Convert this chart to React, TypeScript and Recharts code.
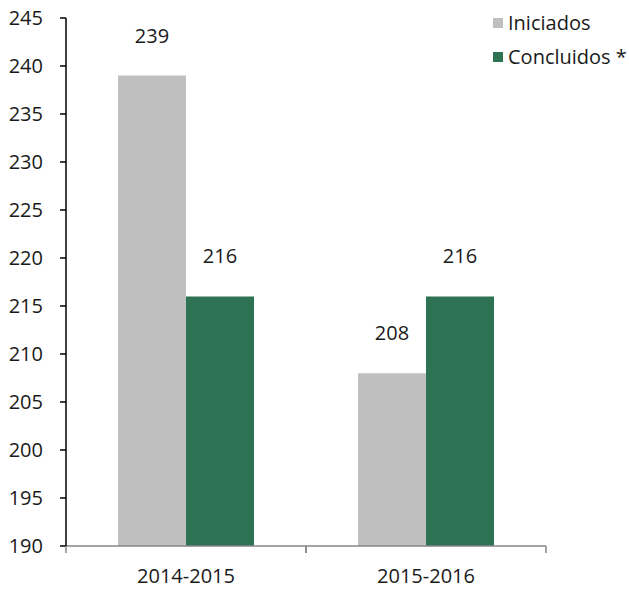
import React from 'react';
import { BarChart, Bar, XAxis, YAxis, LabelList } from 'recharts';

const CATEGORIES = ['2014-2015', '2015-2016'];
const INICIADOS = [239, 208];
const CONCLUIDOS = [216, 216];
const Y_TICKS = [190, 195, 200, 205, 210, 215, 220, 225, 230, 235, 240, 245];

const SERIES = [
  { key: 'iniciados', name: 'Iniciados', color: '#BFBFBF' },
  { key: 'concluidos', name: 'Concluidos *', color: '#2E7254' },
];

const data = CATEGORIES.map((name, i) => ({
  name,
  iniciados: INICIADOS[i],
  concluidos: CONCLUIDOS[i],
}));

const W = 629;
const H = 590;
const MARGIN = { top: 18, right: 83, bottom: 0, left: 0 };
const Y_AXIS_W = 66;
const X_AXIS_H = 44;
const FONT = '"Open Sans", sans-serif';
const FS = 20;
const TEXT = '#1a1a1a';

const plotW = W - MARGIN.left - MARGIN.right - Y_AXIS_W;
const band = plotW / CATEGORIES.length;

// category label plus the boundary tick marks Excel draws between groups
const XTick = (props: any) => {
  const { x, y, payload } = props;
  return (
    <g>
      <line x1={x - band / 2} x2={x - band / 2} y1={y} y2={y + 7} stroke="#868686" strokeWidth={1.5} />
      <line x1={x + band / 2} x2={x + band / 2} y1={y} y2={y + 7} stroke="#868686" strokeWidth={1.5} />
      <text x={x} y={y + 37} textAnchor="middle" fill={TEXT} fontSize={FS} fontFamily={FONT}>
        {payload.value}
      </text>
    </g>
  );
};

const App: React.FC = () => {
  return (
    <div style={{ position: 'absolute', left: 0, top: 0, width: W, height: H, background: '#fff' }}>
      <BarChart width={W} height={H} data={data} margin={MARGIN} barCategoryGap="21.67%" barGap={0}>
        <XAxis
          dataKey="name"
          height={X_AXIS_H}
          stroke="#868686"
          axisLine={{ stroke: '#868686', strokeWidth: 1.5 }}
          tickLine={false}
          tickSize={0}
          tickMargin={0}
          tick={<XTick />}
          interval={0}
        />
        <XAxis xAxisId="top" dataKey="name" orientation="top" height={0} tick={false} tickLine={false} axisLine={{ stroke: '#C8C8C8' }} />
        <YAxis
          domain={[190, 245]}
          ticks={Y_TICKS}
          width={Y_AXIS_W}
          interval={0}
          allowDataOverflow
          axisLine={{ stroke: '#000', strokeWidth: 1.5 }}
          tickLine={{ stroke: '#000', strokeWidth: 1.5 }}
          tickSize={6}
          tickMargin={17}
          tick={{ fill: TEXT, fontSize: FS, fontFamily: FONT }}
        />
        <YAxis yAxisId="right" orientation="right" domain={[190, 245]} width={0} tick={false} tickLine={false} axisLine={{ stroke: '#C8C8C8' }} />
        {SERIES.map((s) => (
          <Bar key={s.key} dataKey={s.key} name={s.name} fill={s.color} isAnimationActive={false}>
            <LabelList dataKey={s.key} position="top" offset={33} fill={TEXT} fontSize={FS} fontFamily={FONT} />
          </Bar>
        ))}
      </BarChart>
      <div style={{ position: 'absolute', left: 493, top: 12, fontFamily: FONT, fontSize: FS, color: TEXT }}>
        {SERIES.map((s) => (
          <div key={s.key} style={{ display: 'flex', alignItems: 'center', height: 22, marginBottom: 12 }}>
            <span style={{ display: 'inline-block', width: 10, height: 10, background: s.color, marginRight: 5 }} />
            <span style={{ lineHeight: '22px', whiteSpace: 'nowrap' }}>{s.name}</span>
          </div>
        ))}
      </div>
    </div>
  );
};

export default App;
